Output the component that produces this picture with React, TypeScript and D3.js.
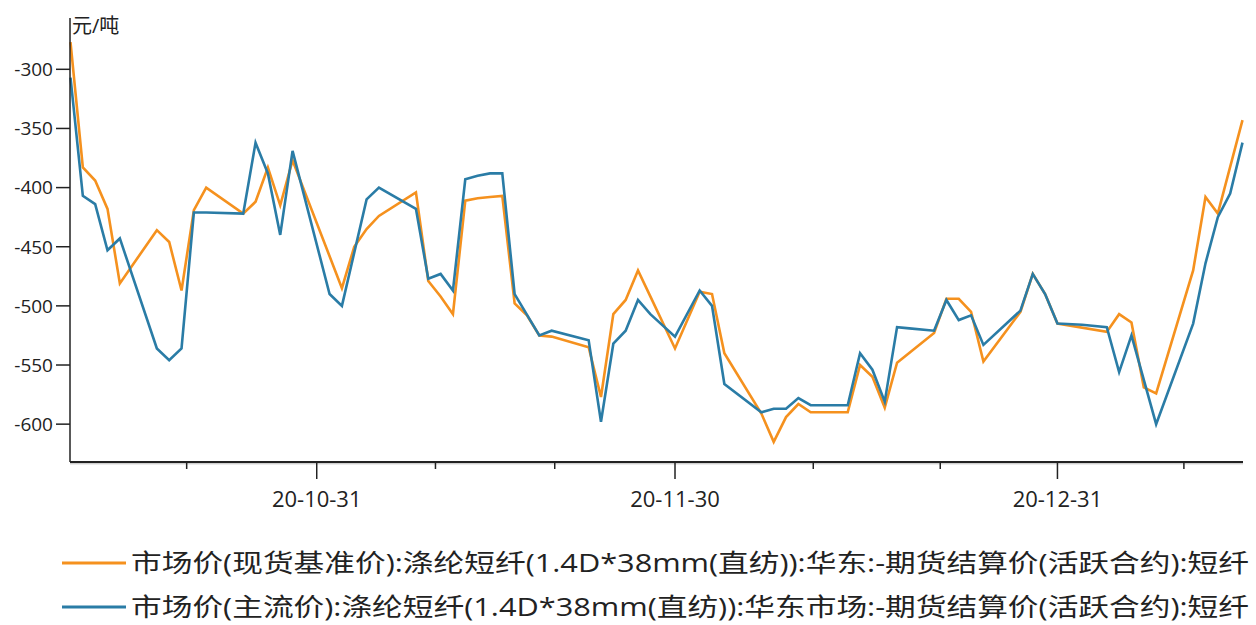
import React from "react";
import * as d3 from "d3";

const orangeName = "市场价(现货基准价):涤纶短纤(1.4D*38mm(直纺)):华东:-期货结算价(活跃合约):短纤";
const blueName = "市场价(主流价):涤纶短纤(1.4D*38mm(直纺)):华东市场:-期货结算价(活跃合约):短纤";
const unitLabel = "元/吨";

const orangeDates = [
  "2020-10-12","2020-10-13","2020-10-14","2020-10-15","2020-10-16","2020-10-19","2020-10-20","2020-10-21","2020-10-22","2020-10-23",
  "2020-10-26","2020-10-27","2020-10-28","2020-10-29","2020-10-30","2020-11-03","2020-11-04","2020-11-05","2020-11-06","2020-11-09",
  "2020-11-10","2020-11-11","2020-11-12","2020-11-13","2020-11-14","2020-11-15","2020-11-16","2020-11-17","2020-11-18","2020-11-19",
  "2020-11-20","2020-11-23","2020-11-24","2020-11-25","2020-11-26","2020-11-27","2020-11-28","2020-11-30","2020-12-02","2020-12-03",
  "2020-12-04","2020-12-07","2020-12-08","2020-12-09","2020-12-10","2020-12-11","2020-12-14","2020-12-15","2020-12-16","2020-12-17",
  "2020-12-18","2020-12-21","2020-12-22","2020-12-23","2020-12-24","2020-12-25","2020-12-28","2020-12-29","2020-12-30","2020-12-31",
  "2021-01-04","2021-01-05","2021-01-06","2021-01-07","2021-01-08","2021-01-11","2021-01-12","2021-01-13","2021-01-15"
];
const orangeValues = [
  -277,-383,-394,-418,-481,-436,-446,-487,-419,-400,
  -422,-412,-383,-415,-377,-485,-450,-435,-424,-404,
  -479,-492,-507,-411,-409,-408,-407,-498,-508,-525,
  -526,-535,-577,-507,-495,-470,-492,-536,-488,-490,
  -540,-591,-615,-594,-583,-590,-590,-550,-560,-586,
  -548,-523,-494,-494,-505,-547,-505,-473,-490,-515,
  -522,-507,-514,-569,-574,-470,-408,-422,-343
];

const blueDates = [
  "2020-10-12","2020-10-13","2020-10-14","2020-10-15","2020-10-16","2020-10-19","2020-10-20","2020-10-21","2020-10-22","2020-10-23",
  "2020-10-26","2020-10-27","2020-10-28","2020-10-29","2020-10-30","2020-11-02","2020-11-03","2020-11-05","2020-11-06","2020-11-09",
  "2020-11-10","2020-11-11","2020-11-12","2020-11-13","2020-11-14","2020-11-15","2020-11-16","2020-11-17","2020-11-19","2020-11-20",
  "2020-11-23","2020-11-24","2020-11-25","2020-11-26","2020-11-27","2020-11-28","2020-11-30","2020-12-02","2020-12-03","2020-12-04",
  "2020-12-07","2020-12-08","2020-12-09","2020-12-10","2020-12-11","2020-12-14","2020-12-15","2020-12-16","2020-12-17","2020-12-18",
  "2020-12-19","2020-12-21","2020-12-22","2020-12-23","2020-12-24","2020-12-25","2020-12-28","2020-12-29","2020-12-30","2020-12-31",
  "2021-01-02","2021-01-04","2021-01-05","2021-01-06","2021-01-08","2021-01-11","2021-01-12","2021-01-13","2021-01-14","2021-01-15"
];
const blueValues = [
  -307,-407,-414,-453,-443,-536,-546,-536,-421,-421,
  -422,-362,-388,-440,-369,-490,-500,-410,-400,-418,
  -477,-473,-487,-393,-390,-388,-388,-490,-525,-521,
  -529,-598,-532,-521,-495,-507,-526,-487,-500,-566,
  -590,-587,-587,-578,-584,-584,-540,-554,-581,-518,
  -519,-521,-495,-512,-508,-533,-504,-473,-490,-515,
  -516,-518,-556,-525,-600,-515,-464,-425,-405,-362
];

const yTicks = [-300, -350, -400, -450, -500, -550, -600];
const majorTickDates = ["2020-10-31T23:00", "2020-11-30T00:00", "2020-12-31T00:00"];
const majorTickLabels = ["20-10-31", "20-11-30", "20-12-31"];
const minorTickDates = ["2020-10-21T10:00", "2020-11-10T14:00", "2020-11-20T06:00", "2020-12-11T05:00", "2020-12-21T12:00", "2021-01-10T06:00"];

const ORANGE = "#F5911E";
const BLUE = "#2A7CA6";
const FONT = "'Open Sans', 'Noto Sans CJK SC', sans-serif";

const parseDay = d3.timeParse("%Y-%m-%d");
const parseTime = d3.timeParse("%Y-%m-%dT%H:%M");

export default function App() {
  const W = 1256, H = 625;
  const left = 70, right = 1243, top = 22, bottom = 462;

  const x = d3.scaleTime()
    .domain([parseDay("2020-10-12") as Date, parseDay("2021-01-15") as Date])
    .range([70.5, 1242.5]);
  const y = d3.scaleLinear().domain([-632, -260]).range([bottom, top]);

  const line = d3.line<[Date, number]>()
    .x(d => x(d[0]))
    .y(d => y(d[1]));

  const orangeData: [Date, number][] = orangeDates.map((d, i) => [parseDay(d) as Date, orangeValues[i]]);
  const blueData: [Date, number][] = blueDates.map((d, i) => [parseDay(d) as Date, blueValues[i]]);

  return (
    <svg width={W} height={H} style={{ position: "absolute", left: 0, top: 0, background: "#fff" }} fontFamily={FONT}>
      <rect x={0} y={0} width={W} height={H} fill="#fff" />
      <path d={line(orangeData) || ""} fill="none" stroke={ORANGE} strokeWidth={2.6} strokeLinejoin="miter" />
      <path d={line(blueData) || ""} fill="none" stroke={BLUE} strokeWidth={2.6} strokeLinejoin="miter" />

      {/* y axis */}
      <line x1={left} x2={left} y1={top - 4} y2={bottom} stroke="#222" strokeWidth={1.5} />
      {yTicks.map(t => (
        <g key={t}>
          <line x1={left - 14} x2={left} y1={y(t)} y2={y(t)} stroke="#222" strokeWidth={1.5} />
          <text x={left - 17} y={y(t)} dy="0.36em" textAnchor="end" fontSize={19} fill="#222">{t}</text>
        </g>
      ))}
      <text x={left + 2} y={top + 11} fontSize={20} fill="#222">{unitLabel}</text>

      {/* x axis */}
      <line x1={left} x2={right} y1={bottom} y2={bottom} stroke="#222" strokeWidth={2} />
      <line x1={left} x2={right} y1={bottom + 1.8} y2={bottom + 1.8} stroke="#bbb" strokeWidth={1} />
      {minorTickDates.map(t => {
        const xp = x(parseTime(t) as Date);
        return <line key={t} x1={xp} x2={xp} y1={bottom} y2={bottom + 7} stroke="#222" strokeWidth={1.5} />;
      })}
      {majorTickDates.map((t, i) => {
        const xp = x(parseTime(t) as Date);
        return (
          <g key={t}>
            <line x1={xp} x2={xp} y1={bottom} y2={bottom + 17} stroke="#222" strokeWidth={1.5} />
            <text x={xp} y={bottom + 45} textAnchor="middle" fontSize={22} fill="#222">{majorTickLabels[i]}</text>
          </g>
        );
      })}

      {/* legend */}
      <line x1={62} x2={126} y1={563} y2={563} stroke={ORANGE} strokeWidth={2.8} />
      <text x={131} y={563} dy="0.36em" fontSize={25} fill="#222" textLength={1118} lengthAdjust="spacingAndGlyphs">{orangeName}</text>
      <line x1={62} x2={126} y1={607} y2={607} stroke={BLUE} strokeWidth={2.8} />
      <text x={131} y={607} dy="0.36em" fontSize={25} fill="#222" textLength={1118} lengthAdjust="spacingAndGlyphs">{blueName}</text>
    </svg>
  );
}
